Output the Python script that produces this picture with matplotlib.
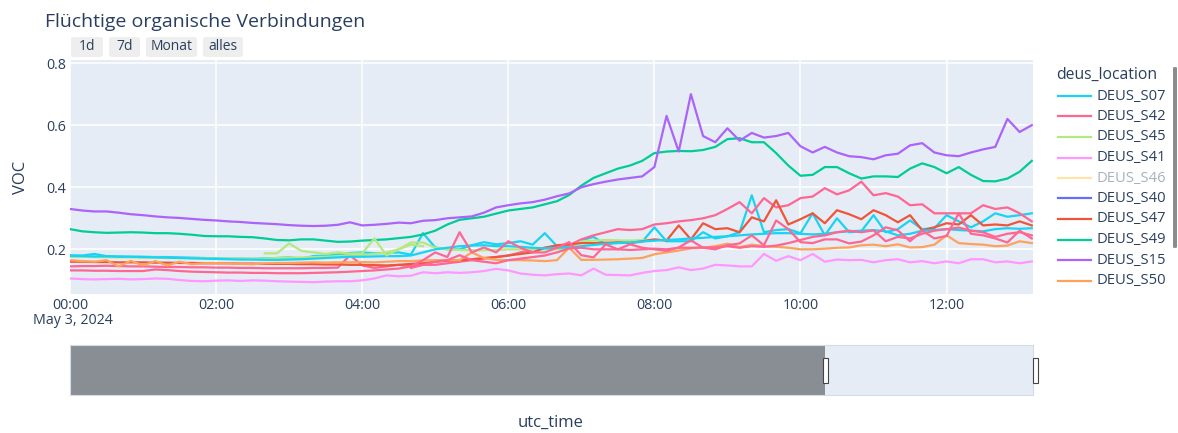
import numpy as np
import pandas as pd
import matplotlib
matplotlib.use("Agg")
import matplotlib.pyplot as plt
import matplotlib.dates as mdates
from matplotlib.lines import Line2D
from matplotlib.patches import Rectangle, FancyBboxPatch

plt.rcParams['font.family'] = ['Open Sans', 'DejaVu Sans']

nan = np.nan
times = pd.date_range("2024-05-03 00:00", periods=80, freq="10min")

# VOC per station, 10 min steps
s07 = [0.181, 0.18, 0.185, 0.178, 0.177, 0.176, 0.176, 0.175, 0.175, 0.174, 0.173, 0.172,
       0.171, 0.17, 0.17, 0.169, 0.171, 0.172, 0.174, 0.17, 0.178, 0.18, 0.183, 0.188,
       0.19, 0.187, 0.188, 0.19, 0.183, 0.252, 0.206, 0.2, 0.2, 0.213, 0.223, 0.216,
       0.22, 0.226, 0.215, 0.252, 0.21, 0.206, 0.229, 0.24, 0.216, 0.223, 0.222, 0.224,
       0.271, 0.226, 0.226, 0.226, 0.255, 0.235, 0.242, 0.255, 0.374, 0.255, 0.262, 0.265,
       0.252, 0.316, 0.245, 0.3, 0.255, 0.258, 0.31, 0.255, 0.265, 0.293, 0.265, 0.268,
       0.31, 0.29, 0.271, 0.29, 0.316, 0.305, 0.31, 0.316]
s42 = [0.145, 0.146, 0.146, 0.147, 0.146, 0.145, 0.145, 0.144, 0.143, 0.143, 0.142, 0.142,
       0.141, 0.141, 0.14, 0.14, 0.139, 0.139, 0.139, 0.139, 0.14, 0.14, 0.141, 0.181,
       0.148, 0.14, 0.145, 0.15, 0.145, 0.15, 0.15, 0.155, 0.16, 0.165, 0.17, 0.175,
       0.18, 0.19, 0.2, 0.205, 0.21, 0.213, 0.232, 0.245, 0.255, 0.265, 0.262, 0.265,
       0.28, 0.284, 0.29, 0.294, 0.3, 0.31, 0.33, 0.352, 0.316, 0.365, 0.335, 0.342,
       0.365, 0.37, 0.397, 0.377, 0.39, 0.418, 0.374, 0.381, 0.37, 0.342, 0.345, 0.316,
       0.316, 0.316, 0.316, 0.342, 0.33, 0.335, 0.316, 0.29]
s45 = [0.177, 0.176, 0.175, 0.175, 0.174, 0.174, 0.173, 0.173, 0.172, 0.172, 0.171, 0.171,
       0.17, 0.17, 0.17, 0.17, 0.17, 0.172, 0.173, 0.174, 0.175, 0.176, 0.178, 0.18,
       0.182, 0.185, 0.19, 0.2, 0.222, 0.222, 0.205, 0.2, 0.198, 0.197, 0.197, 0.198,
       0.2, 0.2, 0.2, 0.2, 0.2, 0.205, 0.225, 0.228, 0.23, 0.229, 0.228, 0.23,
       0.228] + [nan] * 31
s41 = [0.106, 0.104, 0.103, 0.104, 0.105, 0.103, 0.104, 0.106, 0.105, 0.101, 0.098, 0.097,
       0.099, 0.1, 0.098, 0.1, 0.099, 0.097, 0.096, 0.095, 0.094, 0.096, 0.097, 0.097,
       0.1, 0.106, 0.116, 0.113, 0.115, 0.126, 0.123, 0.126, 0.124, 0.126, 0.13, 0.137,
       0.132, 0.122, 0.118, 0.116, 0.12, 0.122, 0.116, 0.138, 0.118, 0.117, 0.116, 0.124,
       0.13, 0.133, 0.142, 0.133, 0.138, 0.15, 0.148, 0.145, 0.145, 0.185, 0.163, 0.178,
       0.165, 0.185, 0.16, 0.167, 0.165, 0.166, 0.158, 0.165, 0.168, 0.158, 0.162, 0.155,
       0.161, 0.155, 0.168, 0.168, 0.158, 0.161, 0.155, 0.161]
s47 = [0.16, 0.16, 0.159, 0.159, 0.158, 0.158, 0.158, 0.157, 0.157, 0.156, 0.156, 0.155,
       0.155, 0.155, 0.154, 0.154, 0.153, 0.153, 0.153, 0.152, 0.152, 0.151, 0.151, 0.15,
       0.15, 0.149, 0.148, 0.15, 0.153, 0.155, 0.16, 0.163, 0.165, 0.168, 0.172, 0.175,
       0.18, 0.185, 0.19, 0.205, 0.213, 0.216, 0.22, 0.22, 0.221, 0.222, 0.22, 0.226,
       0.232, 0.228, 0.277, 0.232, 0.284, 0.265, 0.268, 0.255, 0.303, 0.29, 0.358, 0.28,
       0.297, 0.316, 0.284, 0.326, 0.313, 0.297, 0.326, 0.31, 0.287, 0.31, 0.261, 0.271,
       0.284, 0.28, 0.31, 0.277, 0.28, 0.277, 0.29, 0.277]
s49 = [0.265, 0.258, 0.255, 0.253, 0.254, 0.255, 0.254, 0.252, 0.252, 0.25, 0.247, 0.243,
       0.242, 0.242, 0.24, 0.239, 0.235, 0.23, 0.229, 0.232, 0.232, 0.228, 0.224, 0.225,
       0.228, 0.23, 0.232, 0.236, 0.24, 0.248, 0.26, 0.28, 0.295, 0.3, 0.305, 0.315,
       0.325, 0.33, 0.335, 0.345, 0.355, 0.375, 0.405, 0.43, 0.445, 0.46, 0.47, 0.485,
       0.51, 0.515, 0.517, 0.516, 0.52, 0.53, 0.555, 0.558, 0.545, 0.545, 0.51, 0.47,
       0.437, 0.44, 0.465, 0.465, 0.445, 0.428, 0.435, 0.435, 0.433, 0.46, 0.477, 0.465,
       0.445, 0.465, 0.44, 0.42, 0.419, 0.428, 0.45, 0.485]
s15 = [0.33, 0.325, 0.322, 0.322, 0.318, 0.313, 0.31, 0.306, 0.303, 0.301, 0.298, 0.295,
       0.293, 0.29, 0.288, 0.285, 0.283, 0.281, 0.278, 0.276, 0.275, 0.276, 0.279, 0.287,
       0.277, 0.279, 0.282, 0.286, 0.284, 0.292, 0.294, 0.3, 0.303, 0.306, 0.318, 0.335,
       0.342, 0.348, 0.352, 0.36, 0.371, 0.38, 0.4, 0.41, 0.418, 0.425, 0.43, 0.435,
       0.465, 0.63, 0.515, 0.7, 0.565, 0.545, 0.59, 0.55, 0.575, 0.56, 0.565, 0.575,
       0.532, 0.512, 0.53, 0.512, 0.5, 0.497, 0.49, 0.503, 0.508, 0.535, 0.542, 0.512,
       0.503, 0.5, 0.512, 0.522, 0.53, 0.62, 0.578, 0.6]
s50 = [0.165, 0.162, 0.16, 0.165, 0.145, 0.163, 0.148, 0.162, 0.148, 0.16, 0.152, 0.155,
       0.155, 0.155, 0.153, 0.152, 0.155, 0.156, 0.156, 0.157, 0.158, 0.157, 0.158, 0.158,
       0.159, 0.158, 0.16, 0.162, 0.162, 0.164, 0.165, 0.165, 0.165, 0.19, 0.172, 0.166,
       0.165, 0.165, 0.164, 0.162, 0.165, 0.205, 0.166, 0.166, 0.167, 0.168, 0.17, 0.172,
       0.184, 0.19, 0.196, 0.203, 0.205, 0.21, 0.218, 0.207, 0.215, 0.21, 0.208, 0.205,
       0.2, 0.2, 0.202, 0.205, 0.206, 0.213, 0.215, 0.21, 0.216, 0.206, 0.207, 0.215,
       0.245, 0.22, 0.217, 0.215, 0.21, 0.212, 0.226, 0.22]
# further stations (legend scrolled, names not visible)
cyan_b = [0.178, 0.178, 0.177, 0.177, 0.176, 0.176, 0.175, 0.174, 0.173, 0.172, 0.171, 0.17,
          0.169, 0.168, 0.167, 0.167, 0.166, 0.166, 0.167, 0.168, 0.17, 0.172, 0.174, 0.176,
          0.176, 0.177, 0.178, 0.178, 0.18, 0.19, 0.2, 0.205, 0.21, 0.212, 0.213, 0.21,
          0.21, 0.208, 0.205, 0.203, 0.205, 0.206, 0.21, 0.214, 0.218, 0.22, 0.222, 0.225,
          0.228, 0.23, 0.232, 0.235, 0.237, 0.24, 0.242, 0.245, 0.248, 0.25, 0.252, 0.252,
          0.25, 0.248, 0.25, 0.255, 0.258, 0.26, 0.262, 0.258, 0.245, 0.25, 0.26, 0.262,
          0.265, 0.262, 0.26, 0.258, 0.265, 0.268, 0.266, 0.268]
pink_b = [0.132, 0.132, 0.131, 0.131, 0.13, 0.13, 0.13, 0.135, 0.133, 0.13, 0.128, 0.127,
          0.126, 0.125, 0.125, 0.124, 0.124, 0.123, 0.123, 0.123, 0.124, 0.125, 0.126, 0.128,
          0.13, 0.132, 0.135, 0.138, 0.145, 0.165, 0.19, 0.175, 0.255, 0.19, 0.206, 0.19,
          0.226, 0.205, 0.19, 0.19, 0.205, 0.223, 0.181, 0.174, 0.216, 0.2, 0.216, 0.205,
          0.2, 0.195, 0.206, 0.229, 0.205, 0.2, 0.213, 0.219, 0.245, 0.213, 0.293, 0.265,
          0.223, 0.22, 0.232, 0.232, 0.219, 0.225, 0.245, 0.271, 0.261, 0.226, 0.26, 0.235,
          0.243, 0.316, 0.25, 0.245, 0.235, 0.222, 0.26, 0.235]
green_b = [nan] * 16 + [0.187, 0.187, 0.219, 0.195, 0.19, 0.185, 0.19, 0.186,
                        0.187, 0.235, 0.18, 0.2, 0.215, 0.21] + [nan] * 50
pink_c = [nan] * 28 + [0.14, 0.15, 0.16, 0.165, 0.181, 0.165, 0.16, 0.155,
                       0.165, 0.17, 0.175, 0.18, 0.19, 0.203, 0.205, 0.2, 0.2, 0.2, 0.198, 0.2,
                       0.202, 0.2, 0.205, 0.205, 0.206, 0.206, 0.21, 0.205, 0.21, 0.208, 0.212, 0.22,
                       0.23, 0.24, 0.245, 0.255, 0.26, 0.255, 0.261, 0.226, 0.24, 0.235, 0.25, 0.26,
                       0.265, 0.27, 0.26, 0.255, 0.24, 0.25, 0.255, 0.245]

legend_names = ["DEUS_S07", "DEUS_S42", "DEUS_S45", "DEUS_S41", "DEUS_S46",
                "DEUS_S40", "DEUS_S47", "DEUS_S49", "DEUS_S15", "DEUS_S50"]
legend_colors = ["#19D3F3", "#FF6692", "#B6E880", "#FF97FF", "#FECB52",
                 "#636EFA", "#EF553B", "#00CC96", "#AB63FA", "#FFA15A"]

# drawing order as in the plot
traces = [(s07, "#19D3F3"), (s42, "#FF6692"), (s45, "#B6E880"), (s41, "#FF97FF"),
          (s47, "#EF553B"), (s49, "#00CC96"), (s15, "#AB63FA"), (s50, "#FFA15A"),
          (cyan_b, "#19D3F3"), (pink_b, "#FF6692"), (green_b, "#B6E880"), (pink_c, "#FF6692")]

W, H = 1178, 433
txt = "#2a3f5f"
fig = plt.figure(figsize=(W / 100, H / 100), dpi=100)

ax = fig.add_axes([70 / W, 1 - 294 / H, 963 / W, 234 / H])
ax.set_facecolor("#E5ECF6")
for sp in ax.spines.values():
    sp.set_visible(False)
ax.grid(color="white", lw=1.1)
ax.set_axisbelow(True)

for vals, col in traces:
    ax.plot(times, vals, color=col, lw=1.6)

t_end = pd.Timestamp("2024-05-03 13:11")
ax.set_xlim(times[0], t_end)
ax.set_ylim(0.056, 0.81)
ax.set_yticks([0.2, 0.4, 0.6, 0.8])
ax.set_yticklabels(["0.2", "0.4", "0.6", "0.8"])
ax.xaxis.set_major_locator(mdates.HourLocator(byhour=range(0, 24, 2)))
ax.xaxis.set_major_formatter(mdates.DateFormatter("%H:%M"))
ax.tick_params(length=0, colors=txt, labelsize=10.3, pad=3)
ax.set_ylabel("VOC", color=txt, fontsize=12)
ax.yaxis.set_label_coords(-0.043, 0.5)

fig.text(73 / W, 1 - 321 / H, "May 3, 2024", ha="center", va="center", color=txt, fontsize=10.3)
fig.text(45 / W, 1 - 22 / H, "Flüchtige organische Verbindungen", ha="left", va="center",
         color=txt, fontsize=14)
fig.text(551 / W, 1 - 423 / H, "utc_time", ha="center", va="center", color=txt, fontsize=12)

# range selector buttons
for lab, x0, x1 in [("1d", 71, 103), ("7d", 109, 140), ("Monat", 146, 197), ("alles", 203, 243)]:
    fig.add_artist(FancyBboxPatch((x0 / W, 1 - 57 / H), (x1 - x0) / W, 20 / H,
                                  boxstyle="round,pad=0,rounding_size=0.004",
                                  transform=fig.transFigure, fc="#eeeeee", ec="none"))
    fig.text((x0 + x1) / 2 / W, 1 - 46.5 / H, lab, ha="center", va="center", color=txt, fontsize=10)

# range slider
rs = fig.add_axes([70 / W, 1 - 395 / H, 963 / W, 50 / H])
rs.set_facecolor("#E5ECF6")
rs.set_xlim(times[0], t_end)
rs.set_ylim(0, 1)
rs.axvspan(times[0], pd.Timestamp("2024-05-03 10:20"), color="#898d94", lw=0)
rs.set_xticks([])
rs.set_yticks([])
for sp in rs.spines.values():
    sp.set_color("#d5dbe4")
    sp.set_linewidth(0.8)
for hx in [825, 1035]:
    fig.add_artist(Rectangle(((hx - 2.5) / W, 1 - 383 / H), 5 / W, 25 / H,
                             transform=fig.transFigure, fc="white", ec="#444444", lw=0.8))

# legend
fig.text(1056 / W, 1 - 75 / H, "deus_location", ha="left", va="center", color=txt, fontsize=11.3)
for k, (name, col) in enumerate(zip(legend_names, legend_colors)):
    y = 1 - (96 + k * 20.5) / H
    hidden = name == "DEUS_S46"
    fig.add_artist(Line2D([1058 / W, 1091 / W], [y, y], color=col, lw=1.6,
                          alpha=0.5 if hidden else 1, transform=fig.transFigure))
    fig.text(1097 / W, y, name, ha="left", va="center", fontsize=10.6,
             color="#a8b1be" if hidden else txt)
fig.add_artist(FancyBboxPatch((1173 / W, 1 - 248 / H), 4 / W, 181 / H,
                              boxstyle="round,pad=0,rounding_size=0.002",
                              transform=fig.transFigure, fc="#8c8c8c", ec="none"))

fig.savefig("out.png", dpi=100)
